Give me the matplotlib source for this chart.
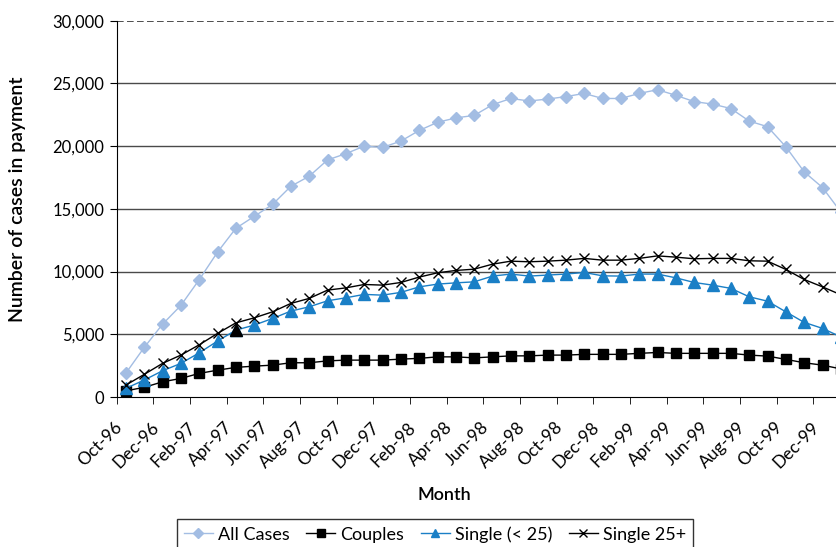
import matplotlib
matplotlib.use("Agg")
import matplotlib.pyplot as plt
import matplotlib.transforms as mtransforms
import numpy as np

plt.rcParams['font.family'] = ['Lato', 'DejaVu Sans']

# monthly caseload, Oct-96 onwards
all_cases = [1900, 3950, 5800, 7300, 9350, 11550, 13450, 14400, 15350, 16800,
             17600, 18900, 19400, 20000, 19900, 20400, 21250, 21900, 22250, 22450,
             23300, 23800, 23600, 23750, 23950, 24200, 23800, 23800, 24200, 24500,
             24050, 23550, 23350, 23000, 22000, 21550, 19950, 17950, 16700, 14750]
couples = [490, 770, 1210, 1480, 1880, 2140, 2360, 2460, 2540, 2730,
           2730, 2880, 2940, 2940, 2940, 3020, 3080, 3200, 3200, 3120,
           3200, 3280, 3280, 3340, 3340, 3400, 3400, 3400, 3480, 3550,
           3480, 3480, 3480, 3480, 3340, 3260, 3000, 2730, 2540, 2240]
single_u25 = [690, 1350, 2090, 2680, 3520, 4460, 5330, 5730, 6260, 6850,
              7190, 7670, 7910, 8180, 8120, 8340, 8780, 9000, 9100, 9180,
              9640, 9800, 9640, 9720, 9800, 9930, 9660, 9640, 9800, 9800,
              9500, 9130, 8920, 8660, 7990, 7640, 6790, 5950, 5470, 4790]
single_25 = [950, 1800, 2680, 3340, 4160, 5070, 5910, 6310, 6790, 7460,
             7860, 8520, 8700, 8970, 8920, 9130, 9560, 9900, 10090, 10190,
             10590, 10830, 10780, 10830, 10910, 11050, 10910, 10910, 11050, 11250,
             11150, 11020, 11050, 11050, 10860, 10830, 10170, 9370, 8780, 8150]
month_labels = ['Oct-96', 'Dec-96', 'Feb-97', 'Apr-97', 'Jun-97', 'Aug-97', 'Oct-97',
                'Dec-97', 'Feb-98', 'Apr-98', 'Jun-98', 'Aug-98', 'Oct-98', 'Dec-98',
                'Feb-99', 'Apr-99', 'Jun-99', 'Aug-99', 'Oct-99', 'Dec-99']

x = np.arange(len(all_cases))

fig = plt.figure(figsize=(8.37, 5.47), dpi=100)
# axes runs a little past the right edge of the figure
ax = fig.add_axes([116.7 / 837, 150 / 547, (850 - 116.7) / 837, (526.3 - 150) / 547])

for v in [5000, 10000, 15000, 20000, 25000]:
    ax.axhline(v, color='#4a4a4a', lw=1, zorder=1)
ax.axhline(30000, color='#303030', lw=1.2, ls=(0, (4, 2)), zorder=1)

ax.plot(x, all_cases, color='#a3bde3', lw=1, marker='D', ms=6.5, mec='#a3bde3',
        label='All Cases', zorder=3)
ax.plot(x, couples, color='black', lw=1, marker='s', ms=7, label='Couples', zorder=3)
ax.plot(x, single_u25, color='#1a7fc6', lw=1, marker='^', ms=8, mec='#1a7fc6',
        label='Single (< 25)', zorder=3)
ax.plot(x[6], single_u25[6], marker='^', ms=8, color='black', ls='none', zorder=3)
ax.plot(x, single_25, color='black', lw=1, marker='x', ms=7, mew=1,
        label='Single 25+', zorder=4)

ax.set_xlim(-0.5, len(x) - 0.5)
ax.set_ylim(0, 30000)
ax.set_yticks(range(0, 30001, 5000))
ax.set_yticklabels([f'{v:,}' for v in range(0, 30001, 5000)])
ax.tick_params(axis='y', length=5, direction='out', pad=4, labelsize=12)

# labels on every second month, tick marks between categories
ax.set_xticks(x[::2])
ax.set_xticklabels(month_labels)
ax.set_xticks(np.arange(-0.5, len(x), 2), minor=True)
ax.tick_params(axis='x', which='major', length=0, pad=16, labelsize=12.5,
               labelrotation=45)
ax.tick_params(axis='x', which='minor', length=5, direction='out')
shift = mtransforms.ScaledTranslation(-12 / 100, 0, fig.dpi_scale_trans)
for lab in ax.get_xticklabels():
    lab.set_ha('right')
    lab.set_rotation_mode('anchor')
    lab.set_transform(lab.get_transform() + shift)

for s in ['top', 'right']:
    ax.spines[s].set_visible(False)

fig.text(444 / 837, 1 - 495 / 547, 'Month', ha='center', va='center', fontsize=13,
         fontweight='semibold')
fig.text(18 / 837, 1 - 199 / 547, 'Number of cases in payment', rotation=90,
         ha='center', va='center', fontsize=14, fontweight='semibold')

leg = fig.legend(loc='upper center', bbox_to_anchor=(435 / 837, 1 - 510 / 547), ncol=4,
                 fontsize=13, frameon=True, fancybox=False, handlelength=1.6,
                 columnspacing=0.9, handletextpad=0.3, borderpad=0.4, markerscale=0.75)
leg.get_frame().set_edgecolor('black')
leg.get_frame().set_linewidth(1)

fig.savefig('out.png', dpi=100)
